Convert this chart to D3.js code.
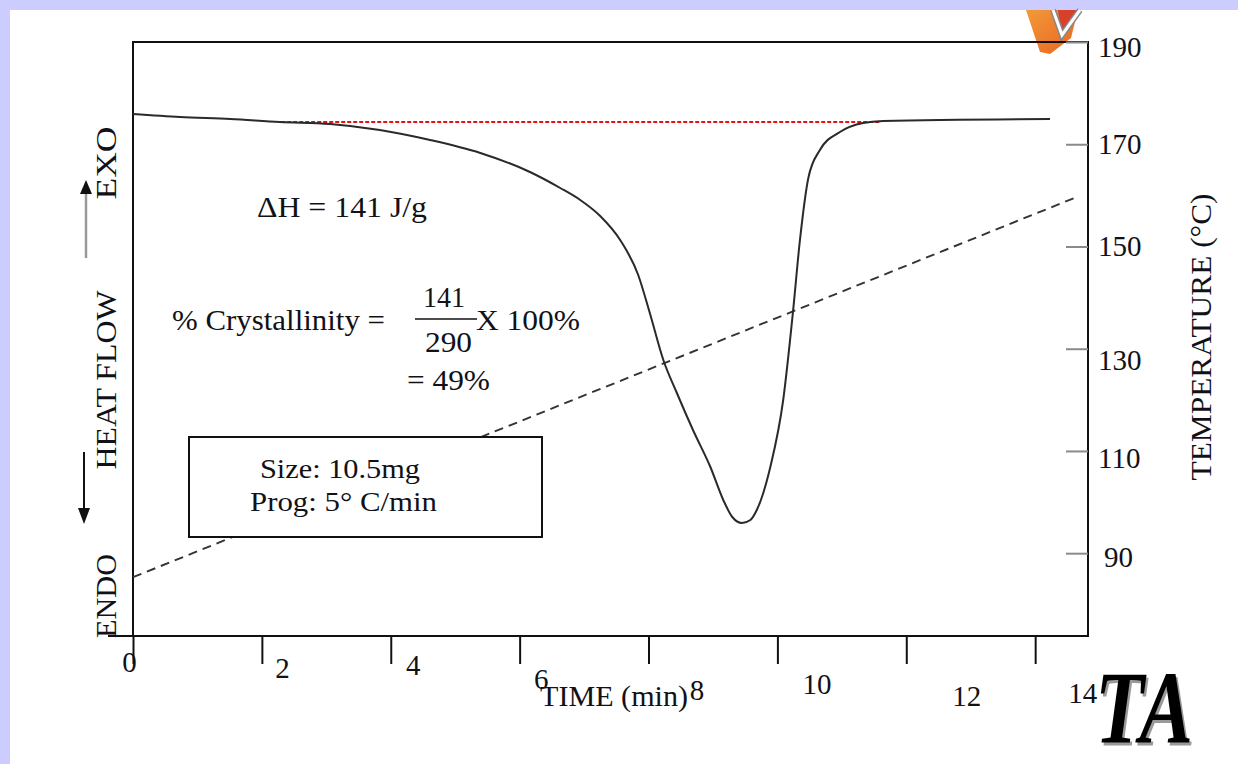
<!DOCTYPE html>
<html>
<head>
<meta charset="utf-8">
<script src="https://cdn.jsdelivr.net/npm/d3@7"></script>
<style>
  body { margin: 0; background: #ccccff; }
  svg { display: block; }
  text { font-family: "Liberation Serif", "Times New Roman", serif; fill: #111118; }
</style>
</head>
<body>
<svg id="chart" width="1238" height="764"></svg>
<script>
// data
const timeTicks = [0, 2, 4, 6, 8, 10, 12, 14];
const tempTicks = [90, 110, 130, 150, 170, 190];

// heat flow (arbitrary units, 0 = melt baseline)
const heatTime = [0, 0.73, 1.51, 2.28, 3.06, 3.83, 4.61, 5.39, 6.16, 6.63, 6.94, 7.25, 7.56, 7.84, 8.02, 8.23, 8.44, 8.69, 8.96, 9.16, 9.30, 9.45, 9.58, 9.68, 9.89, 10.09, 10.24, 10.35, 10.48, 10.66, 10.97, 11.33, 11.64, 14.23];
const heatFlow = [0.16, 0.10, 0.06, 0.0, -0.04, -0.16, -0.36, -0.62, -1.0, -1.32, -1.56, -1.88, -2.36, -3.06, -3.82, -4.76, -5.42, -6.16, -6.90, -7.56, -7.90, -8.02, -7.96, -7.76, -6.90, -5.56, -3.82, -2.36, -1.12, -0.56, -0.20, -0.02, 0.02, 0.06];

// sample temperature (deg C) vs time
const tempTime = [0, 14.65];
const tempValue = [85.3, 159.7];

// integration baseline
const baseTime = [2.3, 11.6];
const baseFlow = [0, 0];

// label nudges (scanned figure has wandering tick labels)
const xLabelNudge = [[-4, 0], [20, 6], [22, 3], [21, 17], [48, 28], [39, 22], [60, 34], [47, 31]];
const yLabelNudge = [[6, 4], [0, 7], [0, 12], [0, 0], [0, 0], [0, 5]];

const svg = d3.select('#chart');
const W = 1238, H = 764;
const plot = {left: 133, top: 42, right: 1088, bottom: 636};

// page background: lavender band + white slide
svg.append('rect').attr('width', W).attr('height', H).attr('fill', '#ccccff');
svg.append('rect').attr('x', 10).attr('y', 10).attr('width', W - 10).attr('height', H - 10).attr('fill', '#fff');

// partial orange logo at top right
const defs = svg.append('defs');
const grad = defs.append('linearGradient').attr('id', 'og').attr('x1', 0).attr('y1', 0).attr('x2', 1).attr('y2', 1);
grad.append('stop').attr('offset', '0%').attr('stop-color', '#f29a3a');
grad.append('stop').attr('offset', '100%').attr('stop-color', '#e8641e');
svg.append('path').attr('d', 'M1026,10 L1078,10 L1071,38 L1050,54 L1040,52 Z').attr('fill', 'url(#og)');
svg.append('path').attr('d', 'M1058,10 L1078,10 L1067,33 L1061,33 Z').attr('fill', '#d8402a');
svg.append('path').attr('d', 'M1053,10 L1062,35 L1080,10').attr('fill', 'none').attr('stroke', '#888').attr('stroke-width', 6);
svg.append('path').attr('d', 'M1053,10 L1062,35 L1080,10').attr('fill', 'none').attr('stroke', '#fff').attr('stroke-width', 3);

// scales
const x = d3.scaleLinear().domain([0, 14.82]).range([plot.left, plot.right]);
const yHeat = d3.scaleLinear().domain([-10.28, 1.6]).range([plot.bottom, plot.top]);
const yTemp = d3.scaleLinear().domain([73.8, 190]).range([plot.bottom, plot.top]);

// frame
svg.append('rect')
  .attr('x', plot.left).attr('y', plot.top)
  .attr('width', plot.right - plot.left).attr('height', plot.bottom - plot.top)
  .attr('fill', 'none').attr('stroke', '#111').attr('stroke-width', 2);
svg.append('line').attr('x1', 108).attr('x2', plot.left).attr('y1', plot.bottom).attr('y2', plot.bottom)
  .attr('stroke', '#111').attr('stroke-width', 2);

// bottom axis
const gx = svg.append('g')
  .attr('transform', 'translate(0,' + plot.bottom + ')')
  .call(d3.axisBottom(x).tickValues(timeTicks).tickSizeInner(28).tickSizeOuter(0).tickPadding(4).tickFormat(d3.format('d')));
gx.select('.domain').remove();
gx.selectAll('.tick line').attr('stroke', '#111').attr('stroke-width', 2);
gx.selectAll('.tick text')
  .attr('font-size', 29).attr('fill', '#111118')
  .attr('dy', '0.71em')
  .attr('transform', (d, i) => 'translate(' + xLabelNudge[i][0] + ',' + (xLabelNudge[i][1] - 17) + ')');

// right temperature axis, ticks pointing inward
const gy = svg.append('g')
  .attr('transform', 'translate(' + plot.right + ',0)')
  .call(d3.axisRight(yTemp).tickValues(tempTicks).tickSizeInner(-22).tickSizeOuter(0).tickPadding(10));
gy.select('.domain').remove();
gy.selectAll('.tick line').attr('stroke', '#8a8a8a').attr('stroke-width', 2);
gy.selectAll('.tick text')
  .attr('font-size', 29).attr('fill', '#111118')
  .attr('transform', (d, i) => 'translate(' + yLabelNudge[i][0] + ',' + yLabelNudge[i][1] + ')');

// temperature ramp
const tempPts = tempTime.map((t, i) => [t, tempValue[i]]);
svg.append('path').datum(tempPts)
  .attr('fill', 'none').attr('stroke', '#333').attr('stroke-width', 1.9).attr('stroke-dasharray', '9,6')
  .attr('d', d3.line().x(d => x(d[0])).y(d => yTemp(d[1])));

// baseline
const basePts = baseTime.map((t, i) => [t, baseFlow[i]]);
svg.append('path').datum(basePts)
  .attr('fill', 'none').attr('stroke', '#e81010').attr('stroke-width', 2).attr('stroke-dasharray', '4,2')
  .attr('d', d3.line().x(d => x(d[0])).y(d => yHeat(d[1])));

// heat flow
const heatPts = heatTime.map((t, i) => [t, heatFlow[i]]);
svg.append('path').datum(heatPts)
  .attr('fill', 'none').attr('stroke', '#2a2a2a').attr('stroke-width', 2)
  .attr('d', d3.line().curve(d3.curveMonotoneX).x(d => x(d[0])).y(d => yHeat(d[1])));

// annotations
function label(str, px, py, size, len) {
  const t = svg.append('text').attr('x', px).attr('y', py).attr('font-size', size).text(str);
  if (len) t.attr('textLength', len).attr('lengthAdjust', 'spacingAndGlyphs');
  return t;
}
label('\u0394H = 141 J/g', 257, 217, 30, 170);
label('% Crystallinity =', 172, 330, 30, 213);
label('141', 423, 307, 30, 42);
svg.append('line').attr('x1', 415).attr('x2', 477).attr('y1', 319).attr('y2', 319).attr('stroke', '#111').attr('stroke-width', 1.6);
label('290', 425, 352, 30, 47);
label('X 100%', 476, 330, 30, 104);
label('= 49%', 407, 390, 30, 83);

// sample box (opaque, hides the ramp behind it)
svg.append('rect').attr('x', 189).attr('y', 437).attr('width', 353).attr('height', 100)
  .attr('fill', '#fff').attr('stroke', '#111').attr('stroke-width', 2);
label('Size: 10.5mg', 260, 478, 28, 160);
label('Prog: 5\u00b0 C/min', 250, 511, 28, 187);

label('TIME (min)', 540, 706, 30, 148);

// rotated axis titles
function vlabel(str, cx, cy, size, len) {
  svg.append('text').attr('transform', 'translate(' + cx + ',' + cy + ') rotate(-90)')
    .attr('text-anchor', 'middle').attr('font-size', size)
    .attr('textLength', len).attr('lengthAdjust', 'spacingAndGlyphs').text(str);
}
vlabel('TEMPERATURE (\u00b0C)', 1211, 337, 30, 287);
vlabel('EXO', 116, 163, 30, 73);
vlabel('HEAT FLOW', 116, 380, 30, 179);
vlabel('ENDO', 116, 596, 30, 84);

// heat flow direction arrows
svg.append('line').attr('x1', 86).attr('x2', 86).attr('y1', 258).attr('y2', 192).attr('stroke', '#999').attr('stroke-width', 2.5);
svg.append('path').attr('d', 'M80,194 L92,194 L86,180 Z').attr('fill', '#111');
svg.append('line').attr('x1', 84).attr('x2', 84).attr('y1', 452).attr('y2', 510).attr('stroke', '#111').attr('stroke-width', 2);
svg.append('path').attr('d', 'M78,508 L90,508 L84,524 Z').attr('fill', '#111');

// TA logo
svg.append('text').attr('x', 1097).attr('y', 746).attr('font-size', 104).attr('font-weight', 'bold').attr('font-style', 'italic')
  .attr('textLength', 98).attr('lengthAdjust', 'spacingAndGlyphs').style('fill', '#9a9a9a').text('TA');
svg.append('text').attr('x', 1095).attr('y', 743).attr('font-size', 104).attr('font-weight', 'bold').attr('font-style', 'italic')
  .attr('textLength', 98).attr('lengthAdjust', 'spacingAndGlyphs').style('fill', '#000').text('TA');
</script>
</body>
</html>
